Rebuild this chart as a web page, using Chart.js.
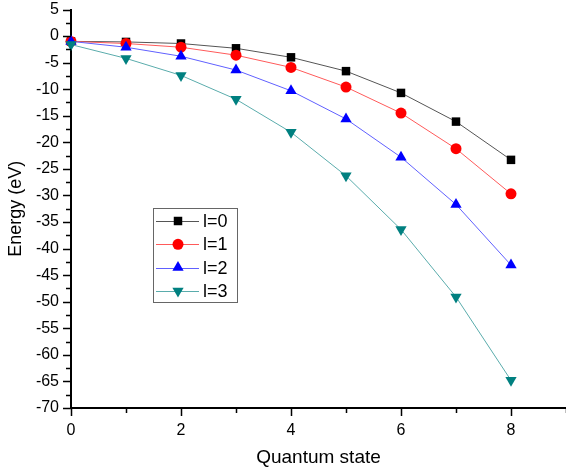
<!DOCTYPE html>
<html lang="en">
<head>
<meta charset="UTF-8" />
<title>Energy vs Quantum state</title>
<script src="https://cdn.jsdelivr.net/npm/chart.js"></script>
<style>
  body { margin: 0; background: #fff; }
  canvas { display: block; }
</style>
</head>
<body>
<canvas id="energyChart" width="566" height="473"></canvas>
<script>
// values
const states = [0, 1, 2, 3, 4, 5, 6, 7, 8];
const energyL0 = [-1.0, -1.1, -1.4, -2.3, -4.0, -6.6, -10.7, -16.1, -23.3];
const energyL1 = [-1.0, -1.4, -2.1, -3.6, -5.9, -9.6, -14.5, -21.2, -29.7];
const energyL2 = [-1.0, -2.1, -3.8, -6.4, -10.3, -15.6, -22.8, -31.7, -43.1];
const energyL3 = [-1.6, -4.2, -7.4, -11.9, -18.1, -26.3, -36.4, -49.1, -64.8];
const seriesLabels = ["l=0", "l=1", "l=2", "l=3"];

const FONT = "'Liberation Sans', Arial, sans-serif";

function series(label, values, marker, line, style, radius, rotation, order) {
  return {
    label: label,
    data: states.map((s, i) => ({ x: s, y: values[i] })),
    borderColor: line,
    borderWidth: 1,
    backgroundColor: marker,
    pointBackgroundColor: marker,
    pointBorderColor: marker,
    pointBorderWidth: 0,
    pointStyle: style,
    pointRadius: radius,
    pointRotation: rotation,
    tension: 0,
    clip: false,
    order: order,
  };
}

// minor/major tick marks + the boxed legend inside the plot
const extras = {
  id: "extras",
  afterDraw(chart) {
    const { ctx, chartArea } = chart;
    const xs = chart.scales.x;
    const ys = chart.scales.y;
    ctx.save();
    ctx.strokeStyle = "#000";
    ctx.lineWidth = 1.5;
    ctx.beginPath();
    xs.ticks.forEach((t) => {
      const px = Math.round(xs.getPixelForValue(t.value)) + 0.5;
      const len = t.value % 2 === 0 ? 8 : 5;
      ctx.moveTo(px, chartArea.bottom);
      ctx.lineTo(px, chartArea.bottom + len);
    });
    ys.ticks.forEach((t) => {
      const py = Math.round(ys.getPixelForValue(t.value)) + 0.5;
      const len = t.value % 5 === 0 ? 8 : 5;
      ctx.moveTo(chartArea.left, py);
      ctx.lineTo(chartArea.left - len, py);
    });
    ctx.stroke();

    // legend
    const bx = 153, by = 208, bw = 84, bh = 94;
    ctx.fillStyle = "#fff";
    ctx.fillRect(bx, by, bw, bh);
    ctx.strokeStyle = "#666";
    ctx.lineWidth = 1;
    ctx.strokeRect(bx + 0.5, by + 0.5, bw, bh);
    ctx.font = "18px " + FONT;
    ctx.textBaseline = "middle";
    ctx.textAlign = "left";
    chart.data.datasets.forEach((ds, i) => {
      const y = by + 13 + i * 23.3;
      ctx.strokeStyle = ds.borderColor;
      ctx.lineWidth = 1;
      ctx.beginPath();
      ctx.moveTo(bx + 3, Math.round(y) + 0.5);
      ctx.lineTo(bx + 46, Math.round(y) + 0.5);
      ctx.stroke();
      ctx.fillStyle = ds.pointBackgroundColor;
      ctx.strokeStyle = ds.pointBorderColor;
      Chart.helpers.drawPoint(ctx, {
        pointStyle: ds.pointStyle,
        radius: ds.pointRadius,
        rotation: ds.pointRotation,
        borderWidth: 0,
      }, bx + 25, y);
      ctx.fillStyle = "#000";
      ctx.fillText(ds.label, bx + 50, y + 1);
    });
    ctx.restore();
  },
};

new Chart(document.getElementById("energyChart"), {
  type: "line",
  data: {
    datasets: [
      series(seriesLabels[0], energyL0, "#000000", "#555555", "rect", 6, 0, 3),
      series(seriesLabels[1], energyL1, "#ff0000", "#ff5a5a", "circle", 5.5, 0, 2),
      series(seriesLabels[2], energyL2, "#0000ff", "#6060ff", "triangle", 6.5, 0, 1),
      series(seriesLabels[3], energyL3, "#008080", "#5aacac", "triangle", 6.5, 180, 0),
    ],
  },
  options: {
    responsive: false,
    animation: false,
    devicePixelRatio: 1,
    layout: { autoPadding: false, padding: { top: 9.5, right: 0, left: 0, bottom: 0 } },
    plugins: { legend: { display: false }, tooltip: { enabled: false } },
    scales: {
      x: {
        type: "linear",
        min: 0,
        max: 9,
        grid: { display: false, drawTicks: false },
        border: { display: true, color: "#000", width: 2 },
        ticks: {
          stepSize: 1,
          autoSkip: false,
          maxRotation: 0,
          padding: 13,
          color: "#000",
          font: { family: FONT, size: 16 },
          callback: (v) => (v % 2 === 0 ? String(v) : ""),
        },
        title: {
          display: true,
          text: "Quantum state",
          color: "#000",
          font: { family: FONT, size: 19 },
          padding: { top: 0, bottom: 4 },
        },
        afterFit: (scale) => {
          scale.height = 65;
          scale.paddingLeft = 0;
          scale.paddingRight = 0;
        },
      },
      y: {
        min: -70,
        max: 5,
        grid: { display: false, drawTicks: false },
        border: { display: true, color: "#000", width: 2 },
        ticks: {
          stepSize: 2.5,
          autoSkip: false,
          padding: 12,
          color: "#000",
          font: { family: FONT, size: 16 },
          callback: (v) => (v % 5 === 0 ? String(v) : ""),
        },
        title: {
          display: true,
          text: "Energy (eV)",
          color: "#000",
          font: { family: FONT, size: 18 },
          padding: { top: 5, bottom: 0 },
        },
        afterFit: (scale) => {
          scale.width = 71;
          scale.paddingTop = 0;
          scale.paddingBottom = 0;
        },
      },
    },
  },
  plugins: [extras],
});
</script>
</body>
</html>
